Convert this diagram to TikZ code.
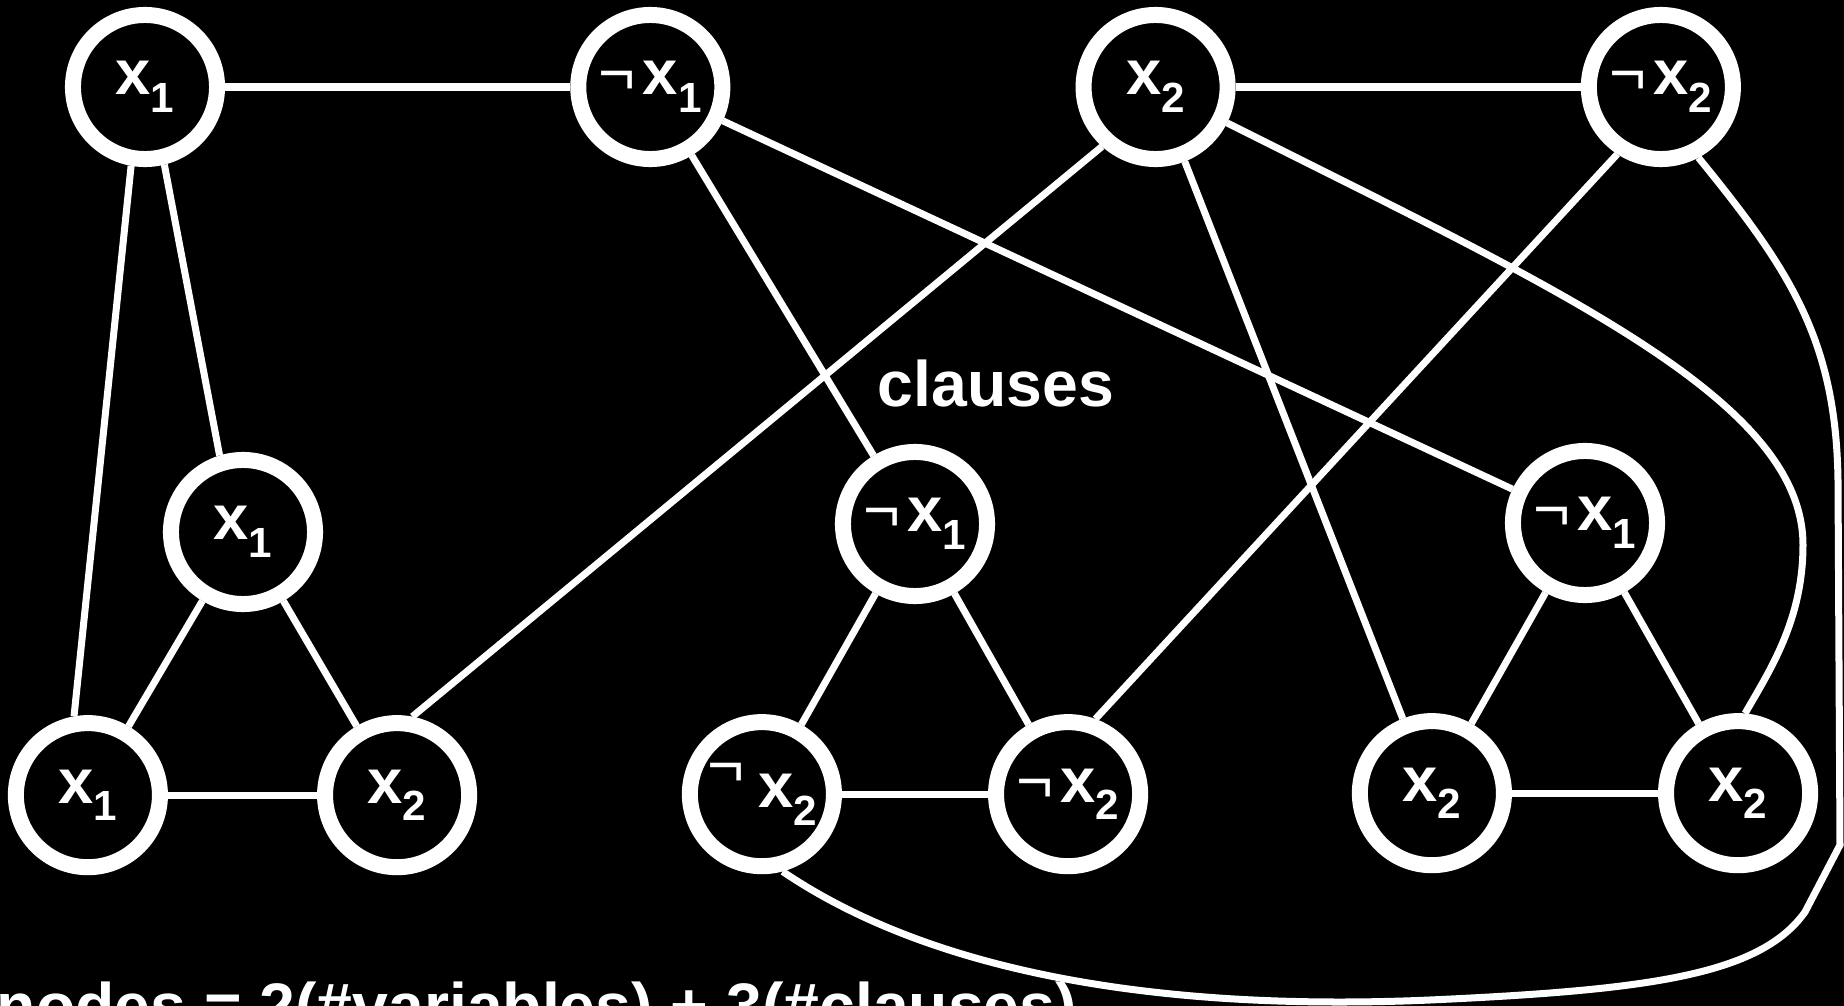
\documentclass[tikz,border=0pt]{standalone}
\usepackage{fontspec}
\setmainfont{Liberation Sans}
\usetikzlibrary{positioning}
\newcommand{\lsub}[1]{\raisebox{-5pt}{\fontsize{12}{12}\selectfont #1}}
\newcommand{\lneg}{{\mdseries ¬}}

\begin{document}
\begin{tikzpicture}[x=0.01cm,y=-0.01cm,
node distance=2.7cm and 1.53cm,on grid,
lit/.style={circle,draw=white,line width=0.16cm,fill=black,text=white,minimum size=1.44cm,inner sep=0pt,font=\fontsize{18}{21}\selectfont\bfseries},
wire/.style={white,line width=0.07cm},
txt/.style={text=white,inner sep=0pt,font=\fontsize{18.3}{22}\selectfont\bfseries}]
\fill[black] (0,0) rectangle (1844,1006);
\useasboundingbox (0,0) rectangle (1844,1006);
% variable gadgets
\node[lit] (x1) at (145,87) {x\lsub{1}};
\node[lit,right=5.05cm of x1] (nx1) {\lneg\kern2pt x\lsub{1}};
\node[lit,right=5.05cm of nx1] (x2) {x\lsub{2}};
\node[lit,right=5.05cm of x2] (nx2) {\lneg\kern2pt x\lsub{2}};
% clause gadgets
\node[lit] (c1t) at (243,532) {x\lsub{1}};
\node[lit,below left=2.63cm and 1.55cm of c1t] (c1l) {x\lsub{1}};
\node[lit,below right=2.63cm and 1.54cm of c1t] (c1r) {x\lsub{2}};
\node[lit] (c2t) at (915,524) {\lneg\kern2pt x\lsub{1}};
\node[lit,below left=of c2t] (c2l) {\raisebox{6pt}{\lneg}\kern4pt x\lsub{2}};
\node[lit,below right=of c2t] (c2r) {\lneg\kern2pt x\lsub{2}};
\node[lit] (c3t) at (1585,523) {\lneg\kern2pt x\lsub{1}};
\node[lit,below left=of c3t] (c3l) {x\lsub{2}};
\node[lit,below right=of c3t] (c3r) {x\lsub{2}};
\node[txt,anchor=base] (clauses) at (996,406) {clauses};
\node[txt,anchor=base west] (count) at (-4,1028) {nodes = 2(\#variables) + 3(\#clauses)};
% edges
\foreach \c in {c1,c2,c3} {
  \draw[wire] (\c t) -- (\c l);
  \draw[wire] (\c t) -- (\c r);
  \draw[wire] (\c l) -- (\c r);
}
\draw[wire] (x1) -- (nx1);
\draw[wire] (x2) -- (nx2);
\draw[wire] (x1.-100) -- (c1l.100);
\draw[wire] (x1.-76) -- (c1t.107);
\draw[wire] (nx1) -- (c2t);
\draw[wire] (nx1) -- (c3t);
\draw[wire] (x2.-132) -- (c1r.79);
\draw[wire] (x2) -- (c3l);
\draw[wire] (nx2.-123) -- (c2r.70);
\draw[wire] (x2) .. controls (1560,290) and (1803,400) .. (1803,545)
  .. controls (1803,620) and (1770,670) .. (c3r.85);
\draw[wire] (nx2.-62) .. controls (1790,270) and (1836,340) .. (1838,480) -- (1840,845) -- (1805,912)
  .. controls (1760,975) and (1650,990) .. (1430,1000) .. controls (1200,1010) and (950,985) .. (c2l.-75);
\end{tikzpicture}
\end{document}
